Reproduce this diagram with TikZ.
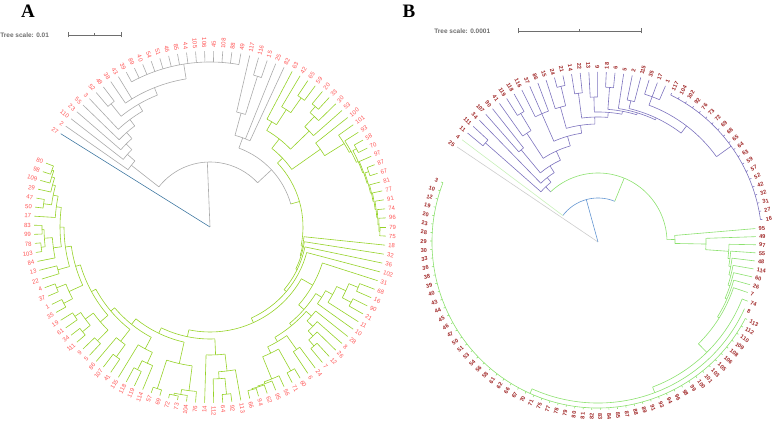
\documentclass[tikz,border=0pt]{standalone}
\usepackage{fontspec}
\newfontfamily\labfont{Liberation Sans}
\newfontfamily\titfont{Liberation Serif}
\definecolor{labA}{RGB}{255,85,85}
\definecolor{labB}{RGB}{160,40,40}
\definecolor{grayA}{RGB}{170,170,170}
\definecolor{greenA}{RGB}{150,210,40}
\definecolor{blueA}{RGB}{70,125,165}
\definecolor{purpB}{RGB}{125,115,190}
\definecolor{greenB}{RGB}{140,225,110}
\definecolor{blueB}{RGB}{100,150,210}
\definecolor{grayB}{RGB}{205,205,205}
\definecolor{lgreenB}{RGB}{200,240,185}
\definecolor{scalegray}{RGB}{110,110,110}
% tree geometry helpers
\def\tZ{148}\def\dZ{2.96}\def\Rt{176}\def\Rl{179}\def\pfx{A}
\newcommand\Ar[3]{\draw ({\tZ-\dZ*(#2)}:#1pt) arc[start angle={\tZ-\dZ*(#2)}, end angle={\tZ-\dZ*(#3)}, radius=#1pt];}
\newcommand\Rd[3]{\draw ({\tZ-\dZ*(#1)}:#2pt) -- ({\tZ-\dZ*(#1)}:#3pt);}
\newcommand\Nd[5]{\Rd{#3}{#1}{#2}\Ar{#2}{#4}{#5}}
\newcommand\Lb[2]{%
  \pgfmathsetmacro\LbA{\tZ-\dZ*(#1)}%
  \pgfmathsetmacro\LbB{mod(\LbA+720,360)}%
  \ifdim\LbB pt>90pt\relax
    \ifdim\LbB pt<270pt\relax
      \node[lab,anchor=mid east,rotate=\LbB-180] (\pfx#2) at (\LbA:\Rl pt) {#2};%
    \else
      \node[lab,anchor=mid west,rotate=\LbB] (\pfx#2) at (\LbA:\Rl pt) {#2};%
    \fi
  \else
    \node[lab,anchor=mid west,rotate=\LbB] (\pfx#2) at (\LbA:\Rl pt) {#2};%
  \fi}
\newcommand\Lf[3]{\Rd{#1}{#2}{\Rt}\Lb{#1}{#3}}
\begin{document}
\begin{tikzpicture}[x=1pt,y=1pt,line width=0.6pt,
  scaletxt/.style={font=\labfont\bfseries\fontsize{6.5}{7}\selectfont,text=scalegray,inner sep=0pt},
  panel/.style={font=\titfont\bfseries\fontsize{19}{20}\selectfont,inner sep=0pt}]
\useasboundingbox (0,0) rectangle (777,427);
% panel letters and scale bars
\node[panel] (pA) at (28,416) {A};
\node[panel] (pB) at (409,416) {B};
\node[scaletxt,anchor=west] (tsA) at (0,392) {Tree scale: 0.01};
\draw[scalegray,line width=0.5pt] (68,392) -- (121,392) (68,389.5) -- (68,394.5) (121,389.5) -- (121,394.5) (94.5,390.5) -- (94.5,393.5);
\node[scaletxt,anchor=west] (tsB) at (434,396) {Tree scale: 0.0001};
\draw[scalegray,line width=0.5pt] (518,396) -- (641,396) (518,393.5) -- (518,398.5) (641,393.5) -- (641,398.5) (579.5,394.5) -- (579.5,397.5);
%================ TREE A ================
\begin{scope}[shift={(210,200)},lab/.style={font=\labfont\fontsize{6}{7}\selectfont,text=labA,inner sep=0pt}]
\def\tZ{148}\def\dZ{2.96}\def\Rt{176}\def\Rl{179}\def\pfx{A}
\begin{scope}[color=blueA]
\Lf{0}{0}{27}
\end{scope}
\begin{scope}[color=grayA]
\Rd{18.8}{0}{65}
\Ar{65}{2.07}{35.5}
\Nd{65}{100}{2.07}{1}{3.15}
\Lf{1}{100}{2}
\Nd{100}{110}{3.15}{2}{4.3}
\Lf{2}{110}{110}
\Nd{110}{118}{4.3}{3}{5.6}
\Lf{3}{118}{23}
\Nd{118}{126}{5.6}{4}{7.2}
\Lf{4}{126}{55}
\Nd{126}{134}{7.2}{5}{9.4}
\Lf{5}{134}{3}
\Nd{134}{142}{9.4}{6.5}{12.25}
\Nd{142}{158}{6.5}{6}{7}
\Lf{6}{158}{52}\Lf{7}{158}{48}
\Nd{142}{150}{12.25}{8}{16.5}
\Lf{8}{150}{38}\Lf{9}{150}{43}
\Nd{150}{165}{16.5}{10}{23}
\foreach \l [count=\k from 10] in {39,89,40,54,51,46,85,44,105,106,45,108,88,49} {\Lf{\k}{165}{\l}}
\Nd{65}{84}{35.5}{26.4}{44.63}
\Nd{84}{95}{26.4}{24.75}{28}
\Nd{95}{118}{24.75}{24}{25.5}
\Lf{24}{118}{117}
\Nd{118}{158}{25.5}{25}{26}
\Lf{25}{158}{116}\Lf{26}{158}{15}
\Lf{27}{95}{25}\Lf{28}{95}{82}
\end{scope}
\begin{scope}[color=greenA]
\Rd{44.63}{84}{93}
\Ar{93}{35.31}{53.95}
\Nd{93}{100}{35.31}{32.5}{38.12}
\Nd{100}{112}{32.5}{29.875}{35.125}
\Nd{112}{122}{29.875}{29}{30.75}
\Lf{29}{122}{63}
\Nd{122}{140}{30.75}{30}{31.5}
\Lf{30}{140}{42}
\Nd{140}{158}{31.5}{31}{32}
\Lf{31}{158}{65}\Lf{32}{158}{59}
\Nd{112}{138}{35.125}{34.25}{36}
\Lf{36}{138}{53}
\Nd{138}{152}{34.25}{33.5}{35}
\Lf{35}{152}{30}
\Nd{152}{160}{33.5}{33}{34}
\Lf{33}{160}{20}\Lf{34}{160}{33}
\Nd{100}{135}{38.12}{37}{39.23}
\Lf{37}{135}{100}
\Nd{135}{158}{39.23}{38}{40.47}
\Lf{38}{158}{101}
\Nd{158}{160}{40.47}{39}{41.94}
\Lf{39}{160}{93}
\Nd{160}{162}{41.94}{40.5}{43.37}
\Nd{162}{166}{40.5}{40}{41}\Lf{40}{166}{58}\Lf{41}{166}{70}
\Nd{162}{163}{43.37}{42}{44.74}
\Lf{42}{163}{97}
\Nd{163}{164}{44.74}{43.5}{45.98}
\Nd{164}{168}{43.5}{43}{44}\Lf{43}{168}{87}\Lf{44}{168}{67}
\Nd{164}{165}{45.98}{45}{46.97}
\Lf{45}{165}{81}
\Nd{165}{166}{46.97}{46}{47.94}
\Lf{46}{166}{77}
\Nd{166}{167}{47.94}{47}{48.875}
\Lf{47}{167}{91}
\Nd{167}{168}{48.875}{48}{49.75}
\Lf{48}{168}{74}
\Nd{168}{169}{49.75}{49}{50.5}
\Lf{49}{169}{96}
\Nd{169}{170}{50.5}{50}{51}
\Lf{50}{170}{79}\Lf{51}{170}{75}
\Nd{93}{94.5}{53.95}{52}{55.9}
\Lf{52}{94.5}{18}
\Nd{94.5}{95.5}{55.9}{53}{58.79}
\Lf{53}{95.5}{32}
\Nd{95.5}{97}{58.79}{54}{63.58}
\Lf{54}{97}{36}
\Nd{97}{100}{63.58}{55}{72.16}
\Lf{55}{100}{102}
\Nd{100}{105}{72.16}{59.98}{84.34}
\Nd{105}{118}{59.98}{56}{63.95}
\Lf{56}{118}{31}
\Nd{118}{125}{63.95}{60.875}{67.03}
\Nd{125}{132}{60.875}{59.75}{62}
\Lf{62}{132}{10}
\Nd{132}{140}{59.75}{58.5}{61}
\Lf{61}{140}{11}
\Nd{140}{150}{58.5}{57.5}{59.5}
\Nd{150}{160}{57.5}{57}{58}\Lf{57}{160}{68}\Lf{58}{160}{16}
\Nd{150}{160}{59.5}{59}{60}\Lf{59}{160}{90}\Lf{60}{160}{21}
\Nd{125}{128}{67.03}{63.94}{70.11}
\Nd{128}{135}{63.94}{63}{64.875}
\Lf{63}{135}{28}
\Nd{135}{143}{64.875}{64}{65.75}
\Lf{64}{143}{8}
\Nd{143}{150}{65.75}{65}{66.5}
\Lf{65}{150}{26}
\Nd{150}{158}{66.5}{66}{67}
\Lf{66}{158}{12}\Lf{67}{158}{7}
\Nd{128}{133}{70.11}{68.5}{71.72}
\Nd{133}{150}{68.5}{68}{69}\Lf{68}{150}{24}\Lf{69}{150}{6}
\Nd{133}{140}{71.72}{70.5}{72.94}
\Nd{140}{165}{70.5}{70}{71}\Lf{70}{165}{60}\Lf{71}{165}{71}
\Nd{140}{164}{72.94}{72}{73.875}
\Lf{72}{164}{56}
\Nd{164}{166}{73.875}{73}{74.75}
\Lf{73}{166}{95}
\Nd{166}{167}{74.75}{74}{75.5}
\Lf{74}{167}{62}
\Nd{167}{168}{75.5}{75}{76}
\Lf{75}{168}{94}\Lf{76}{168}{66}
\Nd{105}{112}{84.34}{79.56}{89.11}
\Nd{112}{128}{79.56}{78.125}{81}
\Lf{81}{128}{14}
\Nd{128}{145}{78.125}{77}{79.25}
\Lf{77}{145}{113}
\Nd{145}{152}{79.25}{78.5}{80}
\Lf{80}{152}{112}
\Nd{152}{168}{78.5}{78}{79}
\Lf{78}{168}{92}\Lf{79}{168}{64}
\Nd{112}{118}{89.11}{84.69}{93.54}
\Nd{118}{140}{84.69}{82.875}{86.5}
\Nd{140}{165}{82.875}{82}{83.75}
\Lf{82}{165}{76}
\Nd{165}{170}{83.75}{83}{84.5}
\Lf{83}{170}{104}
\Nd{170}{172}{84.5}{84}{85}
\Lf{84}{172}{73}\Lf{85}{172}{72}
\Nd{140}{170}{86.5}{86}{87}
\Lf{86}{170}{69}\Lf{87}{170}{57}
\Nd{118}{125}{93.54}{89.875}{97.2}
\Nd{125}{138}{89.875}{88.75}{91}
\Lf{91}{138}{115}
\Nd{138}{150}{88.75}{88}{89.5}
\Lf{88}{150}{114}
\Nd{150}{160}{89.5}{89}{90}
\Lf{89}{160}{119}\Lf{90}{160}{118}
\Nd{125}{130}{97.2}{93.25}{101.15}
\Nd{130}{145}{93.25}{92.5}{94}
\Lf{94}{145}{86}
\Nd{145}{160}{92.5}{92}{93}
\Lf{92}{160}{41}\Lf{93}{160}{107}
\Nd{130}{135}{101.15}{97}{105.3}
\Nd{135}{145}{97}{95.5}{98.5}
\Nd{145}{160}{95.5}{95}{96}
\Lf{95}{160}{5}\Lf{96}{160}{9}
\Nd{145}{155}{98.5}{97.5}{99.5}
\Nd{155}{165}{97.5}{97}{98}
\Lf{97}{165}{111}\Lf{98}{165}{34}
\Nd{155}{162}{99.5}{99}{100}
\Lf{99}{162}{61}\Lf{100}{162}{19}
\Nd{135}{140}{105.3}{102.5}{108.15}
\Nd{140}{155}{102.5}{101.5}{103.5}
\Nd{155}{165}{101.5}{101}{102}
\Lf{101}{165}{35}\Lf{102}{165}{1}
\Nd{155}{165}{103.5}{103}{104}
\Lf{103}{165}{37}\Lf{104}{165}{4}
\Nd{140}{146}{108.15}{105.5}{110.8}
\Nd{146}{158}{105.5}{105}{106}
\Lf{105}{158}{22}\Lf{106}{158}{13}
\Nd{146}{150}{110.8}{108.25}{113.34}
\Nd{150}{158}{108.25}{107}{109.5}
\Lf{107}{158}{84}
\Nd{158}{166}{109.5}{108.5}{110.5}
\Nd{166}{170}{108.5}{108}{109}
\Lf{108}{170}{103}\Lf{109}{170}{78}
\Nd{166}{168}{110.5}{110}{111}
\Lf{110}{168}{99}\Lf{111}{168}{83}
\Nd{150}{155}{113.34}{112}{114.69}
\Lf{112}{155}{17}
\Nd{155}{160}{114.69}{113.5}{115.875}
\Nd{160}{168}{113.5}{113}{114}
\Lf{113}{168}{50}\Lf{114}{168}{47}
\Nd{160}{163}{115.875}{115}{116.75}
\Lf{115}{163}{29}
\Nd{163}{166}{116.75}{116}{117.5}
\Lf{116}{166}{109}
\Nd{166}{168}{117.5}{117}{118}
\Lf{117}{168}{98}\Lf{118}{168}{80}
\end{scope}
\end{scope}
%================ TREE B ================
\begin{scope}[shift={(598,185)},lab/.style={font=\labfont\bfseries\fontsize{5.6}{7}\selectfont,text=labB,inner sep=0pt}]
\def\tZ{146}\def\dZ{2.94}\def\Rt{170}\def\Rl{173}\def\pfx{B}
\begin{scope}[color=grayB]
\Lf{0}{0}{25}
\end{scope}
\begin{scope}[color=blueB]
\Nd{0}{44}{13.8}{1}{26.64}
\end{scope}
\begin{scope}[color=lgreenB]
\Lf{1}{44}{4}
\end{scope}
\begin{scope}[color=greenB]
\Nd{44}{69}{26.64}{4.27}{49.01}
\end{scope}
\begin{scope}[color=purpB]
\Nd{69}{76}{4.27}{2.5}{6.04}
\Nd{76}{150}{2.5}{2}{3}
\Lf{2}{150}{11}\Lf{3}{150}{111}
\Nd{76}{82}{6.04}{4}{8.08}
\Lf{4}{82}{34}
\Nd{82}{90}{8.08}{5.5}{10.66}
\Nd{90}{120}{5.5}{5}{6}
\Lf{5}{120}{107}\Lf{6}{120}{90}
\Nd{90}{100}{10.66}{7.75}{13.57}
\Nd{100}{130}{7.75}{7}{8.5}
\Lf{7}{130}{41}
\Nd{130}{150}{8.5}{8}{9}
\Lf{8}{150}{119}\Lf{9}{150}{118}
\Nd{100}{110}{13.57}{11}{16.14}
\Nd{110}{140}{11}{10}{12}
\Lf{10}{140}{116}\Lf{11}{140}{37}\Lf{12}{140}{86}
\Nd{110}{118}{16.14}{13.75}{18.54}
\Nd{118}{140}{13.75}{13}{14.5}
\Lf{13}{140}{15}
\Nd{140}{160}{14.5}{14}{15}
\Lf{14}{160}{24}\Lf{15}{160}{21}
\Nd{118}{125}{18.54}{16.5}{20.58}
\Nd{125}{150}{16.5}{16}{17}
\Lf{16}{150}{14}\Lf{17}{150}{22}
\Nd{125}{130}{20.58}{18.5}{22.65}
\Nd{130}{145}{18.5}{18}{19}
\Lf{18}{145}{13}\Lf{19}{145}{9}
\Nd{130}{133}{22.65}{20.5}{24.8}
\Nd{133}{155}{20.5}{20}{21}
\Lf{20}{155}{18}\Lf{21}{155}{6}
\Nd{133}{135}{24.8}{22}{27.6}
\Lf{22}{135}{5}
\Nd{135}{137}{27.6}{23.5}{31.75}
\Nd{137}{145}{23.5}{23}{24}
\Lf{23}{145}{2}\Lf{24}{145}{115}
\Nd{137}{146}{31.75}{26}{37.5}
\Nd{146}{155}{26}{25}{27}
\Lf{25}{155}{35}\Lf{26}{155}{17}\Lf{27}{155}{1}
\def\Rt{166}\def\Rl{169}
\Nd{146}{164}{37.5}{28}{47}
\foreach \l [count=\k from 28] in {117,104,102,92,76,73,72,69,68,65,64,63,59,57,52,42,32,31,27,16} {\Lf{\k}{164}{\l}}
\end{scope}
\begin{scope}[color=greenB]
\def\Rt{158}\def\Rl{161}
\Nd{69}{77}{49.01}{48}{50.03}
\Lf{48}{77}{95}
\Nd{77}{108}{50.03}{49}{51.05}
\Lf{49}{108}{49}
\Nd{108}{131}{51.05}{50}{52.11}
\Lf{50}{131}{97}
\Nd{131}{133}{52.11}{51}{53.22}
\Lf{51}{133}{55}
\Nd{133}{135}{53.22}{52}{54.45}
\Lf{52}{135}{48}
\Nd{135}{137}{54.45}{53}{55.89}
\Lf{53}{137}{114}
\Nd{137}{139}{55.89}{54}{57.78}
\Lf{54}{139}{60}
\Nd{139}{141}{57.78}{55}{60.56}
\Lf{55}{141}{26}
\Nd{141}{143}{60.56}{56}{65.1}
\Lf{56}{143}{7}
\Nd{143}{155}{65.1}{57}{73.25}
\def\Rt{161}\def\Rl{164}
\Lf{57}{155}{74}
\Nd{155}{161}{73.25}{58}{88.5}
\Lf{58}{161}{8}
\def\Rt{168}\def\Rl{171}
\Nd{161}{166}{88.5}{59}{118}
\foreach \l [count=\k from 59] in {113,112,110,109,108,106,105,103,101,100,99,98,96,94,93,91,89,88,87,85,84,83,82,81,80,79,78,77,75,71,70,67,66,62,61,58,56,54,53,51,50,47,46,45,44,43,40,39,38,36,33,30,29,28,23,20,19,12,10,3} {\Lf{\k}{166}{\l}}
\end{scope}
\end{scope}
\end{tikzpicture}
\end{document}
